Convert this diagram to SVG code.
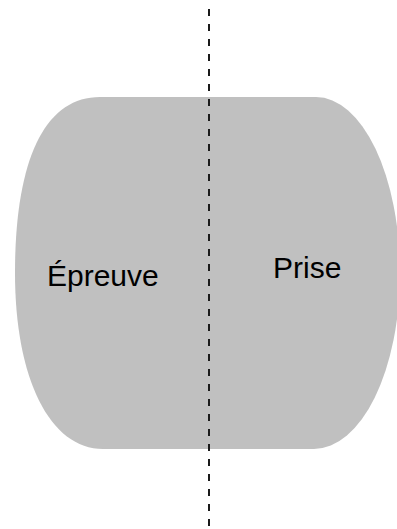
<svg xmlns="http://www.w3.org/2000/svg" width="397" height="529" viewBox="0 0 397 529">
<style>
.label{font-family:"Liberation Sans",Arial,sans-serif;font-size:30px;fill:#000}
.body{fill:#c0c0c0;stroke:none}
.divider{stroke:#1a1a1a;stroke-width:2;stroke-dasharray:7 8;fill:none}
</style>
<rect width="397" height="529" fill="#fff"/>
<g id="barrel">
<path class="body" d="M 100 97 L 316 97 A 84 176 0 0 1 400 273 A 86 176 0 0 1 314 449 L 103 449 C 50 449 15 379 15 273 C 15 159 45 97 100 97 Z"/>
</g>
<g id="epreuve">
<text class="label" x="47" y="286">Épreuve</text>
</g>
<g id="prise">
<text class="label" x="273" y="278">Prise</text>
</g>
<g id="connectors">
<line class="divider" x1="209" y1="9" x2="209" y2="529"/>
</g>
</svg>
